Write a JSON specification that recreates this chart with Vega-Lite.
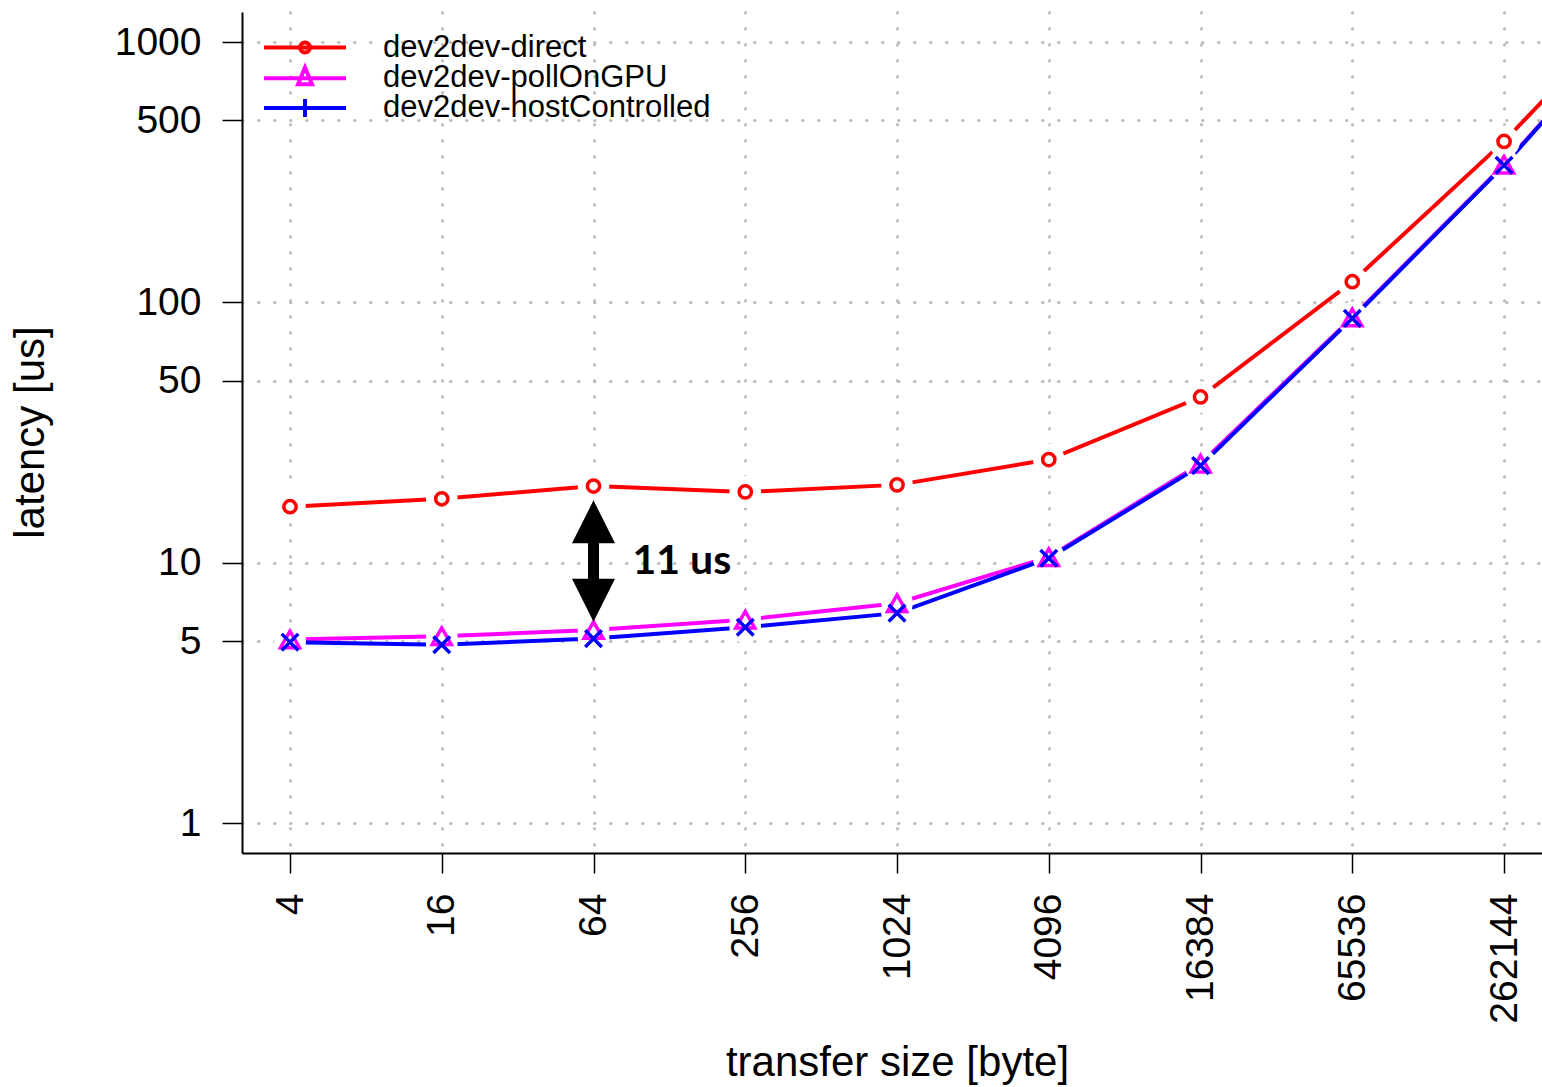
{
  "$schema": "https://vega.github.io/schema/vega-lite/v6.json",
  "width": 1300,
  "height": 841,
  "autosize": {"type": "none"},
  "padding": {"left": 242, "top": 12, "right": 0, "bottom": 234},
  "background": "white",
  "config": {
    "view": {"stroke": null},
    "font": "Liberation Sans",
    "axis": {
      "titleFont": "Liberation Sans", "titleFontSize": 42, "titleFontWeight": "normal", "titleColor": "black",
      "titleBaseline": "middle", "titleAlign": "center",
      "labelFont": "Liberation Sans", "labelFontSize": 39, "labelColor": "black",
      "labelFlush": false, "labelOverlap": false,
      "tickSize": 20, "tickColor": "black", "tickWidth": 1.5,
      "domainColor": "black", "domainWidth": 2,
      "grid": true, "gridColor": "#bdbdbd", "gridDash": [0.5, 15.5], "gridWidth": 3, "gridCap": "round",
      "zindex": 1
    },
    "axisX": {"labelAngle": 270, "labelPadding": 20, "titleX": 655, "titleY": 209},
    "axisY": {"labelPadding": 21, "titleX": -212, "titleY": 420, "titleAngle": 270}
  },
  "datasets": {
    "lat": [
      {"size": 4, "series": "dev2dev-direct", "latency": 16.4},
      {"size": 16, "series": "dev2dev-direct", "latency": 17.6},
      {"size": 64, "series": "dev2dev-direct", "latency": 19.7},
      {"size": 256, "series": "dev2dev-direct", "latency": 18.7},
      {"size": 1024, "series": "dev2dev-direct", "latency": 19.9},
      {"size": 4096, "series": "dev2dev-direct", "latency": 24.9},
      {"size": 16384, "series": "dev2dev-direct", "latency": 43.3},
      {"size": 65536, "series": "dev2dev-direct", "latency": 120},
      {"size": 262144, "series": "dev2dev-direct", "latency": 415},
      {"size": 1048576, "series": "dev2dev-direct", "latency": 1700},
      {"size": 4, "series": "dev2dev-pollOnGPU", "latency": 5.07},
      {"size": 16, "series": "dev2dev-pollOnGPU", "latency": 5.22},
      {"size": 64, "series": "dev2dev-pollOnGPU", "latency": 5.51},
      {"size": 256, "series": "dev2dev-pollOnGPU", "latency": 6.04},
      {"size": 1024, "series": "dev2dev-pollOnGPU", "latency": 6.99},
      {"size": 4096, "series": "dev2dev-pollOnGPU", "latency": 10.5},
      {"size": 16384, "series": "dev2dev-pollOnGPU", "latency": 24.0},
      {"size": 65536, "series": "dev2dev-pollOnGPU", "latency": 87.5},
      {"size": 262144, "series": "dev2dev-pollOnGPU", "latency": 338},
      {"size": 1048576, "series": "dev2dev-pollOnGPU", "latency": 1520},
      {"size": 4, "series": "dev2dev-hostControlled", "latency": 4.95},
      {"size": 16, "series": "dev2dev-hostControlled", "latency": 4.84},
      {"size": 64, "series": "dev2dev-hostControlled", "latency": 5.11},
      {"size": 256, "series": "dev2dev-hostControlled", "latency": 5.65},
      {"size": 1024, "series": "dev2dev-hostControlled", "latency": 6.40},
      {"size": 4096, "series": "dev2dev-hostControlled", "latency": 10.4},
      {"size": 16384, "series": "dev2dev-hostControlled", "latency": 23.6},
      {"size": 65536, "series": "dev2dev-hostControlled", "latency": 86.8},
      {"size": 262144, "series": "dev2dev-hostControlled", "latency": 336},
      {"size": 1048576, "series": "dev2dev-hostControlled", "latency": 1520}
    ],
    "arrow": [
      {"size": 64, "part": "shaft", "latency": 14.35, "latency2": 7.18},
      {"size": 64, "part": "top", "latency": 14.35},
      {"size": 64, "part": "bottom", "latency": 7.18},
      {"size": 64, "part": "label", "latency": 10.07, "label": "11 us"}
    ]
  },
  "encoding": {
    "x": {
      "field": "size", "type": "quantitative",
      "scale": {"type": "log", "base": 2, "domain": [2.58, 370727], "nice": false, "zero": false},
      "title": "transfer size [byte]",
      "axis": {"values": [4, 16, 64, 256, 1024, 4096, 16384, 65536, 262144], "format": "d"}
    },
    "y": {
      "field": "latency", "type": "quantitative",
      "scale": {"type": "log", "domain": [0.767, 1304], "nice": false, "zero": false},
      "title": "latency [us]",
      "axis": {"values": [1, 5, 10, 50, 100, 500, 1000], "format": "d"}
    }
  },
  "layer": [
    {
      "data": {"name": "lat"},
      "mark": {"type": "line", "strokeWidth": 4, "clip": true},
      "encoding": {
        "color": {
          "field": "series", "type": "nominal",
          "scale": {
            "domain": ["dev2dev-direct", "dev2dev-pollOnGPU", "dev2dev-hostControlled"],
            "range": ["#ff0000", "#ff00ff", "#0000ff"]
          },
          "legend": {
            "title": null,
            "orient": "none",
            "legendX": 20,
            "legendY": 35.5,
            "padding": 0,
            "rowPadding": -3.3,
            "labelFont": "Liberation Sans",
            "labelFontSize": 31,
            "labelColor": "black",
            "labelOffset": 35,
            "labelLimit": 0,
            "symbolSize": 6724,
            "symbolStrokeWidth": 4,
            "encode": {
              "symbols": {
                "update": {
                  "y": {"value": 0},
                  "shape": {"signal": "datum.value === 'dev2dev-direct' ? 'M-1,0H1M0.12,0A0.12,0.12,0,1,1,-0.12,0A0.12,0.12,0,1,1,0.12,0' : datum.value === 'dev2dev-pollOnGPU' ? 'M-1,0H1M0,-0.26L0.17,0.146L-0.17,0.146Z' : 'M-1,0H1M0,-0.22V0.22'"},
                  "fill": {"value": "transparent"},
                  "stroke": {"scale": "color", "field": "value"},
                  "strokeWidth": {"value": 4},
                  "opacity": {"value": 1}
                }
              },
              "labels": {
                "update": {
                  "y": {"value": 0}
                }
              }
            }
          }
        }
      }
    },
    {
      "data": {"name": "lat"},
      "mark": {"type": "point", "filled": true, "color": "white", "opacity": 1, "size": 1000, "clip": true}
    },
    {
      "data": {"name": "lat"},
      "transform": [{"filter": "datum.series === 'dev2dev-direct'"}],
      "mark": {"type": "point", "filled": false, "shape": "circle", "size": 150, "strokeWidth": 3.5, "color": "#ff0000", "opacity": 1, "clip": true}
    },
    {
      "data": {"name": "lat"},
      "transform": [{"filter": "datum.series === 'dev2dev-pollOnGPU'"}],
      "mark": {"type": "point", "filled": false, "shape": "triangle-up", "size": 361, "strokeWidth": 3.5, "color": "#ff00ff", "opacity": 1, "clip": true}
    },
    {
      "data": {"name": "lat"},
      "transform": [{"filter": "datum.series === 'dev2dev-hostControlled'"}],
      "mark": {"type": "point", "filled": false, "shape": "M-1,-1L1,1M-1,1L1,-1", "size": 276, "strokeWidth": 3.5, "color": "#0000ff", "opacity": 1, "clip": true}
    },
    {
      "data": {"values": [{}]},
      "mark": {"type": "rule", "color": "black", "strokeWidth": 2},
      "encoding": {
        "x": null,
        "y": {
          "datum": 1304, "type": "quantitative",
          "scale": {"type": "log", "domain": [0.767, 1304], "nice": false, "zero": false},
          "title": "latency [us]",
          "axis": {"values": [1, 5, 10, 50, 100, 500, 1000], "format": "d"}
        }
      }
    },
    {
      "data": {"name": "arrow"},
      "transform": [{"filter": "datum.part === 'shaft'"}],
      "mark": {"type": "rule", "color": "black", "strokeWidth": 11},
      "encoding": {"y2": {"field": "latency2"}}
    },
    {
      "data": {"name": "arrow"},
      "transform": [{"filter": "datum.part === 'top'"}],
      "mark": {"type": "point", "filled": true, "color": "black", "opacity": 1, "shape": "M0,-1L1,1L-1,1Z", "size": 1849}
    },
    {
      "data": {"name": "arrow"},
      "transform": [{"filter": "datum.part === 'bottom'"}],
      "mark": {"type": "point", "filled": true, "color": "black", "opacity": 1, "shape": "M0,1L1,-1L-1,-1Z", "size": 1849}
    },
    {
      "data": {"name": "arrow"},
      "transform": [{"filter": "datum.part === 'label'"}],
      "mark": {"type": "text", "align": "left", "baseline": "middle", "dx": 39, "font": "Lato", "fontWeight": "bold", "fontSize": 41, "color": "black"},
      "encoding": {"text": {"field": "label"}}
    }
  ]
}
